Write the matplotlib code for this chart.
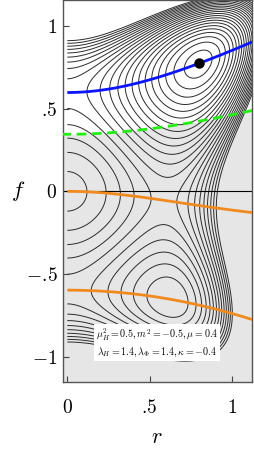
import numpy as np
import matplotlib
matplotlib.use('Agg')
import matplotlib.pyplot as plt

plt.rcParams['mathtext.fontset'] = 'cm'
plt.rcParams['font.family'] = ['DejaVu Serif']

# potential parameters (from the label in the chart)
mu_H2 = 0.5
m2 = -0.5
mu = 0.4
lam_H = 1.4
lam_Phi = 1.4
kappa = -0.4

# global minimum marked with the dot
min_rf = [0.80, 0.775]

# contour levels of V
level_lo = -0.1616
level_hi = 0.036
level_step = 0.0093

x_ticks = [0, 0.5, 1]
x_labels = ['$0$', r'$.\!5$', '$1$']
y_ticks = [-1, -0.5, 0, 0.5, 1]
y_labels = ['$-1$', r'$-.\!5$', '$0$', r'$.\!5$', '$1$']

label_lines = [r'$\mu_H^2=0.5, m^2=-0.5, \mu=0.4$',
               r'$\lambda_H=1.4, \lambda_\Phi=1.4, \kappa=-0.4$']


def V(r, f):
    return (-mu_H2 / 2 * f**2 + lam_H / 4 * f**4 + m2 / 2 * r**2
            + lam_Phi / 4 * r**4 + kappa / 2 * f**2 * r**2 - mu / 4 * f * r**2)


def dV_df(r, f):
    return -mu_H2 * f + lam_H * f**3 + kappa * f * r**2 - mu / 4 * r**2


xlim = (-0.026, 1.121)
ylim = (-1.153, 1.157)

fig = plt.figure(figsize=(2.54, 4.63), dpi=100)
ax = fig.add_axes([63 / 254, (463 - 382) / 463, (252 - 63) / 254, 382 / 463])

r = np.linspace(0, xlim[1] + 0.01, 500)
f = np.linspace(ylim[0] - 0.01, ylim[1] + 0.01, 700)
R, F = np.meshgrid(r, f)

# shaded region below the f-spinodal
r_all = np.linspace(xlim[0] - 0.01, xlim[1] + 0.01, 300)
f_spin = np.sqrt((mu_H2 - kappa * r_all**2) / (3 * lam_H))
ax.fill_between(r_all, ylim[0] - 0.1, f_spin, color='#e6e6e6', lw=0, zorder=0)

levels = np.arange(level_lo, level_hi, level_step)
ax.contour(R, F, V(R, F), levels=levels, colors='#2b2b2b', linewidths=0.7,
           linestyles='solid', zorder=1)

ax.axhline(0, color='k', lw=0.8, zorder=2)

D = dV_df(R, F)
ax.contour(R, F, np.ma.masked_where(F < 0.3, D), levels=[0], colors='#0a14ff',
           linewidths=2.0, zorder=3)
ax.contour(R, F, np.ma.masked_where(F >= 0.3, D), levels=[0], colors='#f08a1e',
           linewidths=2.0, zorder=3)
ax.plot(r_all, f_spin, color='#22ee11', lw=2.0, ls=(0, (3.5, 2)), zorder=3)

ax.plot(min_rf[0], min_rf[1], 'o', color='k', ms=6.5, zorder=4)

ax.text(0.545, -0.915, '\n'.join(label_lines), ha='center', va='center',
        fontsize=7.2, linespacing=1.3, zorder=5,
        bbox=dict(fc='white', ec='none', pad=1.5))

ax.set_xlim(*xlim)
ax.set_ylim(*ylim)
ax.set_xticks(x_ticks)
ax.set_xticklabels(x_labels)
ax.set_yticks(y_ticks)
ax.set_yticklabels(y_labels)
ax.tick_params(direction='in', length=4, width=0.8, labelsize=14,
               color='#444444')
ax.tick_params(axis='x', pad=12)
ax.tick_params(axis='y', pad=4)
for s in ax.spines.values():
    s.set_color('#555555')
    s.set_linewidth(1.0)

fig.text(18 / 254, 1 - 191 / 463, '$f$', fontsize=16, ha='center', va='center')
fig.text(157 / 254, 1 - 437 / 463, '$r$', fontsize=16, ha='center', va='center')

fig.savefig('out.png', dpi=100)
